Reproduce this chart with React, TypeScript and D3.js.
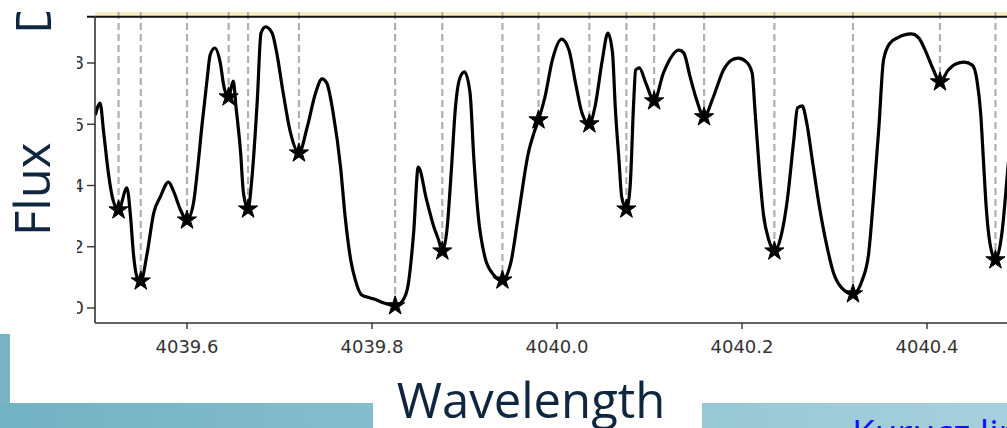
import React, { useEffect } from "react";
import * as d3 from "d3";

// Spectrum (wavelength in Å, normalized flux)
const wavelength = [
  4039.501, 4039.506, 4039.51, 4039.515, 4039.52, 4039.526, 4039.535, 4039.539, 4039.542, 4039.546,
  4039.55, 4039.557, 4039.564, 4039.571, 4039.58, 4039.585, 4039.593, 4039.6, 4039.607, 4039.611,
  4039.616, 4039.622, 4039.625, 4039.63, 4039.636, 4039.64, 4039.645, 4039.65, 4039.653, 4039.658,
  4039.661, 4039.666, 4039.67, 4039.676, 4039.68, 4039.685, 4039.692, 4039.697, 4039.704, 4039.712,
  4039.721, 4039.73, 4039.739, 4039.746, 4039.751, 4039.758, 4039.766, 4039.771, 4039.777, 4039.782,
  4039.789, 4039.798, 4039.805, 4039.813, 4039.82, 4039.825, 4039.831, 4039.838, 4039.845, 4039.85,
  4039.859, 4039.867, 4039.872, 4039.876, 4039.881, 4039.886, 4039.89, 4039.895, 4039.9, 4039.906,
  4039.91, 4039.915, 4039.922, 4039.93, 4039.941, 4039.95, 4039.958, 4039.969, 4039.975, 4039.98,
  4039.987, 4039.995, 4040.005, 4040.013, 4040.02, 4040.027, 4040.035, 4040.041, 4040.049, 4040.055,
  4040.06, 4040.063, 4040.067, 4040.07, 4040.075, 4040.079, 4040.083, 4040.085, 4040.089, 4040.096,
  4040.105, 4040.115, 4040.132, 4040.137, 4040.144, 4040.151, 4040.159, 4040.169, 4040.18, 4040.189,
  4040.196, 4040.205, 4040.211, 4040.214, 4040.219, 4040.223, 4040.229, 4040.235, 4040.243, 4040.249,
  4040.256, 4040.26, 4040.265, 4040.27, 4040.276, 4040.283, 4040.292, 4040.299, 4040.308, 4040.32,
  4040.33, 4040.337, 4040.342, 4040.348, 4040.353, 4040.36, 4040.368, 4040.383, 4040.391, 4040.398,
  4040.407, 4040.414, 4040.423, 4040.431, 4040.44, 4040.449, 4040.454, 4040.458, 4040.461, 4040.464,
  4040.468, 4040.474, 4040.481, 4040.487, 4040.492,
];
const flux = [
  0.63, 0.669, 0.571, 0.441, 0.353, 0.32, 0.392, 0.297, 0.18, 0.101,
  0.088, 0.18, 0.31, 0.362, 0.411, 0.385, 0.32, 0.287, 0.343, 0.441,
  0.591, 0.754, 0.826, 0.849, 0.8, 0.722, 0.689, 0.741, 0.656, 0.506,
  0.376, 0.323, 0.418, 0.679, 0.898, 0.918, 0.898, 0.833, 0.702, 0.571,
  0.506, 0.591, 0.702, 0.748, 0.735, 0.637, 0.46, 0.297, 0.157, 0.091,
  0.042, 0.033, 0.026, 0.016, 0.01, 0.007, 0.016, 0.059, 0.245, 0.46,
  0.353, 0.264, 0.222, 0.186, 0.255, 0.46, 0.647, 0.751, 0.771, 0.702,
  0.493, 0.297, 0.167, 0.114, 0.091, 0.147, 0.297, 0.506, 0.571, 0.614,
  0.689, 0.81, 0.878, 0.842, 0.735, 0.637, 0.601, 0.656, 0.81, 0.898,
  0.833, 0.656, 0.483, 0.362, 0.323, 0.395, 0.679, 0.777, 0.784, 0.735,
  0.676, 0.767, 0.842, 0.833, 0.754, 0.679, 0.624, 0.689, 0.777, 0.81,
  0.816, 0.803, 0.767, 0.647, 0.441, 0.31, 0.222, 0.186, 0.245, 0.353,
  0.549, 0.653, 0.66, 0.604, 0.483, 0.343, 0.199, 0.114, 0.065, 0.046,
  0.091, 0.18, 0.353, 0.591, 0.81, 0.865, 0.882, 0.895, 0.882, 0.842,
  0.777, 0.738, 0.777, 0.797, 0.803, 0.793, 0.744, 0.637, 0.483, 0.33,
  0.212, 0.157, 0.245, 0.441, 0.614,
];

// Identified line minima (stars + dashed markers)
const lineWavelength = [
  4039.526, 4039.55, 4039.6, 4039.645, 4039.666, 4039.721, 4039.825, 4039.876, 4039.941,
  4039.98, 4040.035, 4040.075, 4040.105, 4040.159, 4040.235, 4040.32, 4040.414, 4040.474,
];
const lineFlux = [
  0.32, 0.088, 0.287, 0.689, 0.323, 0.506, 0.007, 0.186, 0.091,
  0.614, 0.601, 0.323, 0.676, 0.624, 0.186, 0.046, 0.738, 0.157,
];

const xTicks = [4039.6, 4039.8, 4040.0, 4040.2, 4040.4];
const yTicks = [0.0, 0.2, 0.4, 0.6, 0.8];
const yLabel = "Flux";
const yLabelNext = "D";
const xLabel = "Wavelength";
const noteLabel = "Kurucz line list";

const W = 1007;
const H = 428;
const left = 95;
const bottom = 323;
const top = 12;

export default function App() {
  useEffect(() => {
    document.body.style.margin = "0";
  }, []);

  const x = d3.scaleLinear().domain([4039.5, 4040.5]).range([94.5, 1019.5]);
  const y = d3.scaleLinear().domain([0, 0.8]).range([308, 63]);

  const pts: [number, number][] = wavelength.map((w, i) => [w, flux[i]]);
  const line = d3
    .line<[number, number]>()
    .x((d) => x(d[0]))
    .y((d) => y(d[1]))
    .curve(d3.curveMonotoneX);
  const star = d3.symbol(d3.symbolStar, 115)() as string;

  const navy = "#0f2640";
  const slideFont = "'Open Sans', sans-serif";
  const tickFont = "'DejaVu Sans', sans-serif";

  return (
    <svg width={W} height={H} style={{ display: "block", position: "absolute", left: 0, top: 0, background: "#fff" }}>
      <defs>
        <clipPath id="plotClip">
          <rect x={left} y={top} width={W - left} height={bottom - top} />
        </clipPath>
        <linearGradient id="tealL" x1="0" x2="1" y1="0" y2="0">
          <stop offset="0" stopColor="#72b2c3" />
          <stop offset="1" stopColor="#86bdcc" />
        </linearGradient>
        <linearGradient id="tealR" x1="0" x2="1" y1="0" y2="0">
          <stop offset="0" stopColor="#98c8d5" />
          <stop offset="1" stopColor="#a6d0dc" />
        </linearGradient>
      </defs>

      {/* slide background shapes */}
      <rect x={0} y={334} width={10} height={H - 334} fill="#76b4c5" />
      <rect x={0} y={403} width={373} height={H - 403} fill="url(#tealL)" />
      <rect x={702} y={403} width={W - 702} height={H - 403} fill="url(#tealR)" />

      {/* top yellow band */}
      <rect x={left} y={top} width={W - left} height={4.5} fill="#fbeec4" />

      {/* dashed line markers */}
      <g clipPath="url(#plotClip)">
        {lineWavelength.map((w, i) => (
          <line
            key={"d" + i}
            x1={x(w)}
            x2={x(w)}
            y1={top}
            y2={y(lineFlux[i])}
            stroke="#b0b0b0"
            strokeWidth={2.2}
            strokeDasharray="7 4"
          />
        ))}
      </g>

      {/* top black line */}
      <line x1={87} x2={W} y1={16.8} y2={16.8} stroke="#111" strokeWidth={2} />

      {/* spectrum */}
      <g clipPath="url(#plotClip)">
        <path d={line(pts) || ""} fill="none" stroke="#000" strokeWidth={3.2} strokeLinejoin="round" />
        {lineWavelength.map((w, i) => (
          <path
            key={"s" + i}
            d={star}
            transform={`translate(${x(w)},${y(lineFlux[i])})`}
            fill="#000"
            stroke="#000"
            strokeWidth={1}
          />
        ))}
      </g>

      {/* axes spines */}
      <line x1={left} x2={left} y1={16} y2={bottom} stroke="#333" strokeWidth={1.6} />
      <line x1={left} x2={W} y1={bottom} y2={bottom} stroke="#333" strokeWidth={1.6} />

      {/* x ticks */}
      {xTicks.map((t) => (
        <g key={"xt" + t} transform={`translate(${x(t)},0)`}>
          <line y1={bottom} y2={bottom + 6} stroke="#333" strokeWidth={1.4} />
          <text y={bottom + 30} textAnchor="middle" fontFamily={tickFont} fontSize={18} fill="#333">
            {t.toFixed(1)}
          </text>
        </g>
      ))}

      {/* y ticks */}
      {yTicks.map((t) => (
        <g key={"yt" + t} transform={`translate(0,${y(t)})`}>
          <line x1={left - 8} x2={left} stroke="#333" strokeWidth={1.4} />
          <text x={left - 11} dy="0.35em" textAnchor="end" fontFamily={tickFont} fontSize={18} fill="#333">
            {t.toFixed(1)}
          </text>
        </g>
      ))}

      {/* white slide text box covering the y tick labels */}
      <rect x={0} y={0} width={77} height={330} fill="#fff" />

      {/* slide texts */}
      <text transform="translate(50,236) rotate(-90)" fontFamily={slideFont} fontSize={49} fill={navy}>
        {yLabel}
      </text>
      <text transform="translate(51,34) rotate(-90)" fontFamily={slideFont} fontSize={49} fill={navy}>
        {yLabelNext}
      </text>
      <rect x={0} y={0} width={W} height={top} fill="#fff" />

      <text x={531} y={418} textAnchor="middle" fontFamily={slideFont} fontSize={49} fill={navy}>
        {xLabel}
      </text>
      <text x={852} y={446} fontFamily={slideFont} fontSize={37} fill="#1010ff">
        {noteLabel}
      </text>
    </svg>
  );
}
